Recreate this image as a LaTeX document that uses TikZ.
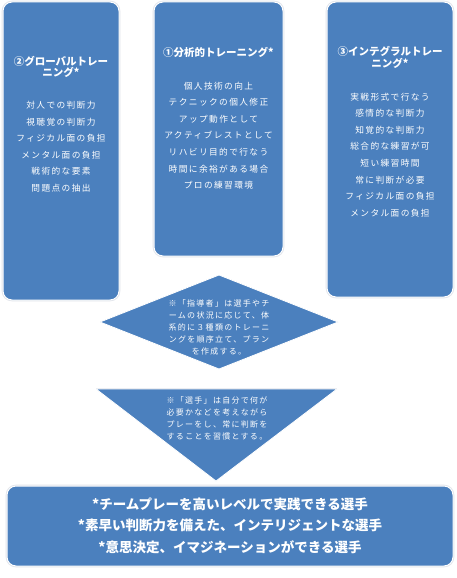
\documentclass[tikz,border=0pt]{standalone}
\usepackage{fontspec}
\newfontfamily\jp{Noto Sans CJK JP}
\newfontfamily\jpls{Noto Sans CJK JP}[LetterSpace=16]
\definecolor{boxblue}{RGB}{75,128,190}
\definecolor{glow}{RGB}{225,228,235}
\tikzset{
  panel/.style={fill=boxblue, draw=white, line width=1pt, rounded corners=9pt},
  halo/.style={draw=glow, line width=2.6pt, rounded corners=9pt},
  body/.style={text=white, align=center, inner sep=0pt, anchor=north, font=\jpls\fontsize{8.7}{16.6}\selectfont},
  small/.style={text=white, align=center, inner sep=0pt, anchor=north, font=\jpls\fontsize{8}{12}\selectfont},
  ttl/.style={text=white, align=center, inner sep=0pt, anchor=north, font=\jp\bfseries\fontsize{10.5}{11.5}\selectfont},
  big/.style={text=white, align=center, inner sep=0pt, anchor=north, font=\jp\bfseries\fontsize{13.5}{21.5}\selectfont},
}
\begin{document}
\begin{tikzpicture}[x=1pt,y=-1pt]
\useasboundingbox[fill=white] (0,0) rectangle (457,578);
% panels
\foreach \a/\b/\c/\d in {3/2/119/300, 154/2/283/256, 327/2/453/297, 7/486/453/566}{
  \draw[halo] (\a,\b) rectangle (\c,\d);
  \draw[panel] (\a,\b) rectangle (\c,\d);
}
% diamond
\draw[draw=white, line width=0.8pt, fill=boxblue] (100,322) -- (219,275) -- (338,322) -- (219,369) -- cycle;
% triangle
\draw[draw=glow, line width=1.6pt] (96,389) -- (337,389);
\draw[draw=white, line width=0.8pt, fill=boxblue] (96,389) -- (337,389) -- (216,481) -- cycle;

% box 2
\node[ttl] (t2) at (61,56) {②グローバルトレー\\ニング*};
\node[body] (b2) at (61,101) {対人での判断力\\視聴覚の判断力\\フィジカル面の負担\\メンタル面の負担\\戦術的な要素\\問題点の抽出};
% box 1
\node[ttl] (t1) at (218.5,47.5) {①分析的トレーニング*};
\node[body] (b1) at (218.5,81.5) {個人技術の向上\\テクニックの個人修正\\アップ動作として\\アクティブレストとして\\リハビリ目的で行なう\\時間に余裕がある場合\\プロの練習環境};
% box 3
\node[ttl] (t3) at (390,46.5) {③インテグラルトレー\\ニング*};
\node[body] (b3) at (390,92.5) {実戦形式で行なう\\感情的な判断力\\知覚的な判断力\\総合的な練習が可\\短い練習時間\\常に判断が必要\\フィジカル面の負担\\メンタル面の負担};
% diamond text
\node[small] (dt) at (219,299.5) {※「指導者」は選手やチ\\ームの状況に応じて、体\\系的に３種類のトレーニ\\ングを順序立て、プラン\\を作成する。};
% triangle text
\node[small] (tt) at (217,396.5) {※「選手」は自分で何が\\必要かなどを考えながら\\プレーをし、常に判断を\\することを習慣とする。};
% bottom
\node[big] (bt) at (230,497.5) {*チームプレーを高いレベルで実践できる選手\\*素早い判断力を備えた、インテリジェントな選手\\*意思決定、イマジネーションができる選手};
\end{tikzpicture}
\end{document}
